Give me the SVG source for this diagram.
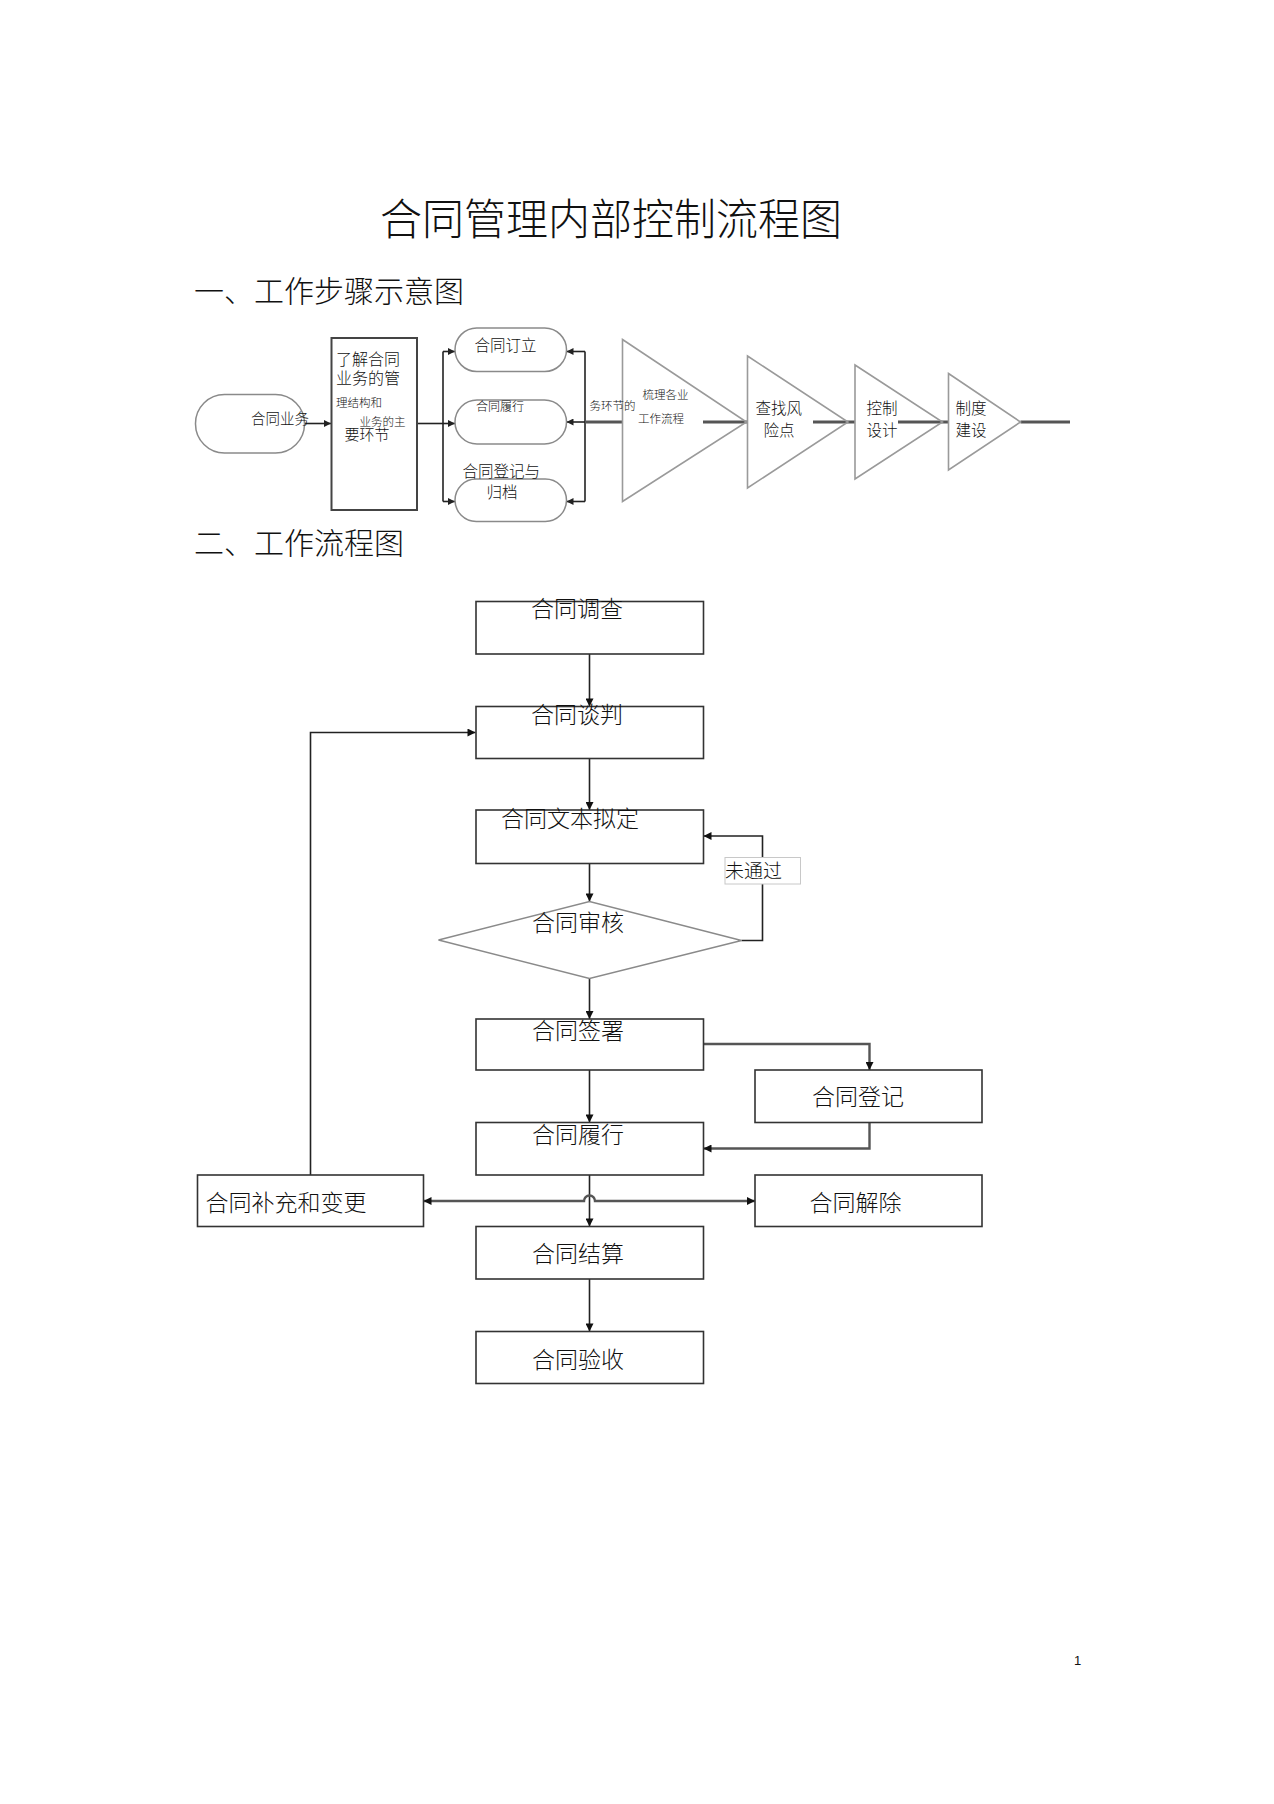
<svg xmlns="http://www.w3.org/2000/svg" width="1274" height="1804" viewBox="0 0 1274 1804">
<style>
text { font-family: "Noto Sans CJK SC", "Noto Sans", sans-serif; fill: #111; font-weight: 300; }
.title { font-size: 43px; }
.h { font-size: 30px; }
.t16 { font-size: 15.5px; }
.t12 { font-size: 11.5px; }
.t23 { font-size: 23px; }
.stad { fill: none; stroke: #8a8a8a; stroke-width: 1.5; }
.tri { fill: none; stroke: #9a9a9a; stroke-width: 1.6; }
.box { fill: none; stroke: #333; stroke-width: 1.6; }
.thick { fill: none; stroke: #555; stroke-width: 3; }
.ln { fill: none; stroke: #222; stroke-width: 1.6; }
.gln { fill: none; stroke: #555; stroke-width: 2.4; }
</style>
<defs>
<marker id="ah" viewBox="0 0 10 10" refX="10" refY="5" markerWidth="9" markerHeight="8" markerUnits="userSpaceOnUse" orient="auto-start-reverse">
<path d="M0,0 L10,5 L0,10 z" fill="#111"/>
</marker>
<marker id="ahs" viewBox="0 0 10 10" refX="10" refY="5" markerWidth="8" markerHeight="7" markerUnits="userSpaceOnUse" orient="auto-start-reverse">
<path d="M0,0 L10,5 L0,10 z" fill="#222"/>
</marker>
</defs>
<rect width="1274" height="1804" fill="#fff"/>

<text class="title" x="380" y="235" textLength="462" lengthAdjust="spacingAndGlyphs">合同管理内部控制流程图</text>
<text class="h" x="194" y="302">一、工作步骤示意图</text>
<text class="h" x="194" y="554">二、工作流程图</text>

<!-- connectors -->
<g id="connectors">
  <!-- top schematic -->
  <path class="ln" d="M304,423.5 H331" marker-end="url(#ahs)"/>
  <path class="ln" d="M417,423.5 H443"/>
  <path class="ln" d="M443,351.5 V501.5" stroke-width="2"/>
  <path class="ln" d="M443,351.5 H455" marker-end="url(#ahs)"/>
  <path class="ln" d="M443,423.5 H455" marker-end="url(#ahs)"/>
  <path class="ln" d="M443,501.5 H455" marker-end="url(#ahs)"/>
  <path class="ln" d="M585,351.5 V501.5" stroke-width="2"/>
  <path class="ln" d="M585,351.5 H566.5" marker-end="url(#ahs)"/>
  <path class="ln" d="M585,501.5 H566.5" marker-end="url(#ahs)"/>
  <path class="thick" d="M622.5,422 H585"/>
  <path class="ln" d="M585,422 H566.5" marker-end="url(#ahs)"/>
  <path class="thick" d="M703,422 H747.5"/>
  <path class="thick" d="M813,422 H855"/>
  <path class="thick" d="M898,422 H948"/>
  <path class="thick" d="M1020.5,422 H1070"/>

  <!-- flowchart -->
  <path class="ln" d="M589.5,654 V706.5" marker-end="url(#ah)"/>
  <path class="ln" d="M589.5,758.5 V810" marker-end="url(#ah)"/>
  <path class="ln" d="M589.5,863.5 V901.5" marker-end="url(#ah)"/>
  <path class="ln" d="M589.5,978.5 V1019" marker-end="url(#ah)"/>
  <path class="ln" d="M589.5,1070 V1122.5" marker-end="url(#ah)"/>
  <path class="ln" d="M589.5,1175 V1226.5" marker-end="url(#ah)"/>
  <path class="ln" d="M589.5,1279 V1331.5" marker-end="url(#ah)"/>
  <path class="ln" d="M741.5,940.5 H762.5 V836 H703.5" stroke="#333" marker-end="url(#ah)"/>
  <path class="ln" d="M310.5,1175 V732.5 H475.5" stroke="#444" marker-end="url(#ah)"/>
  <path class="gln" d="M703.5,1044 H869.5 V1070" marker-end="url(#ah)"/>
  <path class="gln" d="M869.5,1122.5 V1148.5 H703.5" marker-end="url(#ah)"/>
  <path class="gln" d="M423.5,1201 H584 A5.5,5.5 0 0 1 595,1201 H755" marker-start="url(#ah)" marker-end="url(#ah)"/>
  <rect x="725" y="857.5" width="75.5" height="26.5" fill="#fff" stroke="#c8c8c8" stroke-width="1"/>
  <text x="725" y="877.5" style="font-size:19px">未通过</text>
</g>

<!-- top schematic nodes -->
<g id="n-business">
  <rect class="stad" x="195.5" y="394.5" width="109" height="58.5" rx="29" ry="29"/>
  <text x="251" y="423.5" style="font-size:14.5px">合同业务</text>
</g>
<g id="n-understand">
  <rect x="331.5" y="338" width="85.5" height="172" fill="none" stroke="#444" stroke-width="2"/>
  <text x="336" y="365" style="font-size:16px">了解合同</text>
  <text x="336" y="384" style="font-size:16px">业务的管</text>
  <text class="t12" x="336" y="407">理结构和</text>
  <text class="t12" x="359.5" y="426">业务的主</text>
  <text x="344.5" y="440" style="font-size:15px">要环节</text>
</g>
<g id="n-sign">
  <rect class="stad" x="455" y="328" width="111.5" height="43.5" rx="21.7" ry="21.7"/>
  <text class="t16" x="474.5" y="351">合同订立</text>
</g>
<g id="n-perform">
  <rect class="stad" x="455" y="400" width="111.5" height="44" rx="22" ry="22"/>
  <text x="476" y="411" style="font-size:12px">合同履行</text>
</g>
<g id="n-archive">
  <rect class="stad" x="455" y="479" width="111.5" height="42.5" rx="21.2" ry="21.2"/>
  <text class="t16" x="462.5" y="476.5">合同登记与</text>
  <text class="t16" x="486.5" y="498">归档</text>
</g>
<g id="n-tri1">
  <polygon class="tri" points="622.5,339.5 746.5,422 622.5,501.5"/>
  <text class="t12" x="589.5" y="410">务环节的</text>
  <text class="t12" x="642.5" y="398.5">梳理各业</text>
  <text class="t12" x="638" y="422.5">工作流程</text>
</g>
<g id="n-tri2">
  <polygon class="tri" points="747.5,356 848,422 747.5,488"/>
  <text class="t16" x="755.5" y="414">查找风</text>
  <text class="t16" x="763.5" y="435.5">险点</text>
</g>
<g id="n-tri3">
  <polygon class="tri" points="855,365 942.5,422 855,479"/>
  <text class="t16" x="866.5" y="414">控制</text>
  <text class="t16" x="866.5" y="435.5">设计</text>
</g>
<g id="n-tri4">
  <polygon class="tri" points="948.5,373.5 1020.5,422 948.5,470"/>
  <text class="t16" x="955.5" y="414">制度</text>
  <text class="t16" x="955.5" y="435.5">建设</text>
</g>

<!-- flowchart nodes -->
<g id="f-investigate">
  <rect class="box" x="476" y="601.5" width="227.5" height="52.5"/>
  <text class="t23" x="531" y="617">合同调查</text>
</g>
<g id="f-negotiate">
  <rect class="box" x="476" y="706.5" width="227.5" height="52"/>
  <text class="t23" x="531" y="723">合同谈判</text>
</g>
<g id="f-draft">
  <rect class="box" x="476" y="810" width="227.5" height="53.5"/>
  <text class="t23" x="501" y="827">合同文本拟定</text>
</g>
<g id="f-review">
  <polygon points="438.5,940 589.5,901.5 741.5,940.5 589.5,978.5" fill="none" stroke="#8a8a8a" stroke-width="1.5"/>
  <text class="t23" x="532" y="930.5">合同审核</text>
</g>
<g id="f-signing">
  <rect class="box" x="476" y="1019" width="227.5" height="51"/>
  <text class="t23" x="532" y="1039">合同签署</text>
</g>
<g id="f-register">
  <rect class="box" x="755" y="1070" width="227" height="52.5"/>
  <text class="t23" x="812" y="1105">合同登记</text>
</g>
<g id="f-perform">
  <rect class="box" x="476" y="1122.5" width="227.5" height="52.5"/>
  <text class="t23" x="532" y="1143">合同履行</text>
</g>
<g id="f-change">
  <rect class="box" x="197.5" y="1175" width="226" height="51.5"/>
  <text class="t23" x="205.5" y="1210.5">合同补充和变更</text>
</g>
<g id="f-terminate">
  <rect class="box" x="755" y="1175" width="227" height="51.5"/>
  <text class="t23" x="809.5" y="1211">合同解除</text>
</g>
<g id="f-settle">
  <rect class="box" x="476" y="1226.5" width="227.5" height="52.5"/>
  <text class="t23" x="532" y="1262">合同结算</text>
</g>
<g id="f-accept">
  <rect class="box" x="476" y="1331.5" width="227.5" height="52"/>
  <text class="t23" x="532" y="1368">合同验收</text>
</g>

<text x="1074" y="1665" style="font-family:'Liberation Sans',sans-serif;font-size:13px">1</text>
</svg>
